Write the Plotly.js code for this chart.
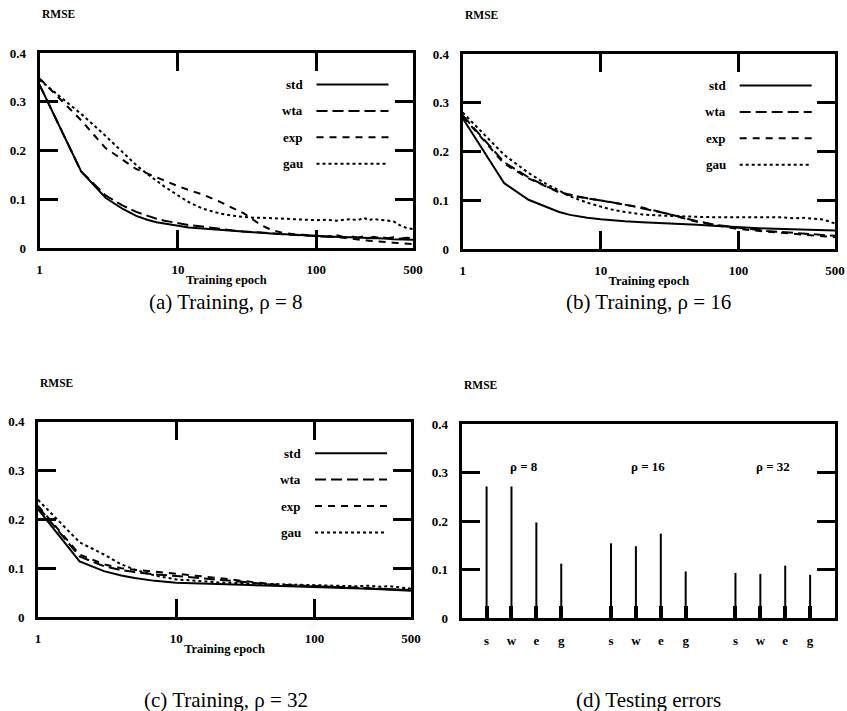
<!DOCTYPE html>
<html>
<head>
<meta charset="utf-8">
<script src="https://cdn.plot.ly/plotly-3.0.1.min.js"></script>
<style>html,body{margin:0;padding:0;background:#fff;}#chart{width:847px;height:711px;}</style>
</head>
<body>
<div id="chart"></div>
<script>
// ---------- data ----------
const methods = ['std', 'wta', 'exp', 'gau'];

const epochsA = [1,2,3,4,5,6,7,8,10,12,15,20,25,30,35,40,45,50,60,70,80,100,120,140,160,180,200,220,240,260,280,300,330,360,400,450,500];
const stdA = [.335,.157,.103,.080,.066,.058,.053,.050,.045,.042,.040,.037,.035,.033,.032,.031,.030,.029,.028,.027,.026,.024,.023,.023,.022,.022,.021,.021,.020,.020,.020,.019,.019,.018,.018,.017,.017];
const wtaA = [.335,.157,.108,.087,.074,.066,.060,.056,.051,.047,.044,.039,.036,.034,.033,.032,.031,.030,.028,.027,.026,.025,.023,.026,.022,.024,.021,.024,.020,.023,.021,.022,.020,.022,.019,.021,.020];
const expA = [.348,.262,.205,.180,.162,.153,.145,.139,.127,.119,.110,.095,.082,.071,.058,.047,.040,.035,.030,.028,.027,.025,.024,.023,.021,.019,.017,.016,.015,.014,.013,.012,.011,.011,.010,.009,.008];
const gauA = [.345,.275,.230,.195,.170,.152,.138,.126,.108,.094,.081,.071,.066,.063,.062,.062,.061,.061,.060,.059,.058,.057,.058,.056,.058,.059,.057,.062,.057,.060,.058,.057,.056,.055,.047,.041,.039];

const epochsB = [1,2,3,4,5,6,7,8,10,12,15,20,25,30,40,50,70,100,130,160,200,250,300,350,400,450,500];
const stdB = [.268,.135,.101,.086,.076,.070,.066,.064,.061,.059,.057,.055,.054,.053,.051,.050,.047,.044,.043,.042,.041,.040,.040,.039,.039,.038,.038];
const wtaB = [.274,.178,.147,.129,.117,.111,.107,.104,.100,.096,.091,.084,.078,.073,.064,.057,.049,.043,.040,.037,.035,.033,.031,.030,.029,.028,.027];
const expB = [.272,.175,.145,.128,.116,.110,.107,.104,.100,.096,.091,.085,.079,.073,.063,.056,.048,.041,.038,.036,.033,.031,.029,.028,.026,.025,.024];
const gauB = [.280,.193,.156,.134,.120,.108,.101,.095,.087,.081,.076,.071,.069,.068,.067,.066,.065,.065,.065,.064,.065,.063,.064,.062,.061,.057,.052];

const epochsC = [1,2,3,4,5,7,10,15,20,30,50,70,100,150,200,250,300,350,400,450,500];
const stdC = [.221,.114,.094,.085,.080,.074,.070,.068,.067,.066,.064,.063,.062,.060,.059,.058,.057,.056,.056,.055,.054];
const wtaC = [.226,.124,.104,.096,.092,.087,.084,.080,.077,.072,.066,.064,.063,.061,.060,.059,.058,.057,.057,.056,.055];
const expC = [.228,.128,.108,.100,.097,.093,.089,.083,.080,.074,.067,.065,.063,.061,.060,.059,.058,.057,.057,.056,.055];
const gauC = [.240,.153,.128,.108,.097,.085,.077,.073,.071,.069,.067,.066,.065,.064,.063,.064,.062,.063,.061,.060,.058];

const testGroups = ['\u03c1 = 8', '\u03c1 = 16', '\u03c1 = 32'];
const testLabels = ['s', 'w', 'e', 'g'];
const testP8  = [.271, .271, .197, .112];
const testP16 = [.154, .148, .174, .096];
const testP32 = [.093, .091, .108, .089];

const yTicks = [0, 0.1, 0.2, 0.3, 0.4];
const yTickText = ['0', '0.1', '0.2', '0.3', '0.4'];
const xTicks = [1, 10, 100, 500];
const xTickText = ['1', '10', '100', '500'];

// ---------- styles ----------
const W = 847, H = 711;
const FONT = 'Liberation Serif, Times New Roman, serif';
const dashes = {std: 'solid', wta: '11px,5px', exp: '7px,6px', gau: '3px,3px'};
const px = v => v / W;
const py = v => 1 - v / H;

// panel boxes in pixels: [left, top, right, bottom]
const boxes = [
  [39.5, 53, 413, 248],
  [462.7, 54, 835, 249],
  [38, 421.7, 411, 617],
  [461.7, 424, 835, 618]
];

const traces = [];
const lineSets = [
  [epochsA, [stdA, wtaA, expA, gauA]],
  [epochsB, [stdB, wtaB, expB, gauB]],
  [epochsC, [stdC, wtaC, expC, gauC]]
];
lineSets.forEach((set, p) => {
  const sfx = p === 0 ? '' : String(p + 1);
  set[1].forEach((vals, i) => {
    traces.push({
      type: 'scatter', mode: 'lines', x: set[0], y: vals,
      name: methods[i], xaxis: 'x' + sfx, yaxis: 'y' + sfx,
      line: {color: 'black', width: 2, dash: dashes[methods[i]]},
      showlegend: false, hoverinfo: 'x+y+name'
    });
  });
});

// testing bars
const testSets = [testP8, testP16, testP32];
const barX = [], barY = [], barText = [], tickV = [], tickT = [];
testSets.forEach((vals, g) => {
  vals.forEach((v, m) => {
    const pos = g * 5 + m + 1;
    barX.push(pos); barY.push(v);
    barText.push(testGroups[g] + ' ' + testLabels[m]);
    tickV.push(pos); tickT.push(testLabels[m]);
  });
});
traces.push({
  type: 'bar', x: barX, y: barY, width: 0.08, xaxis: 'x4', yaxis: 'y4',
  marker: {color: 'black', line: {width: 0}}, showlegend: false,
  hovertext: barText, hoverinfo: 'text+y'
});

const tickFont = {family: FONT, size: 13, color: 'black', weight: 700};

function yAxis(b, xa) {
  return {
    domain: [py(b[3]), py(b[1])], anchor: xa, range: [0, 0.4],
    tickvals: yTicks, ticktext: yTickText, ticks: 'inside', ticklen: 18, tickwidth: 3,
    tickcolor: 'black', showline: true, linewidth: 3, linecolor: 'black', mirror: 'ticks',
    showgrid: false, zeroline: false, tickfont: tickFont, ticklabelstandoff: 8, fixedrange: true
  };
}
function xAxisLog(b, ya) {
  return {
    domain: [px(b[0]), px(b[2])], anchor: ya, type: 'log', range: [0, Math.log10(500)],
    tickvals: xTicks, ticktext: xTickText, ticks: 'inside', ticklen: 18, tickwidth: 3,
    tickcolor: 'black', showline: true, linewidth: 3, linecolor: 'black', mirror: 'ticks',
    showgrid: false, zeroline: false, tickfont: tickFont, ticklabelstandoff: 7,
    title: {text: 'Training epoch', font: {family: FONT, size: 12.5, color: 'black', weight: 700}, standoff: 0},
    fixedrange: true
  };
}

const layout = {
  width: W, height: H, margin: {l: 0, r: 0, t: 0, b: 0},
  paper_bgcolor: 'white', plot_bgcolor: 'white', showlegend: false,
  font: {family: FONT, color: 'black'},
  xaxis: xAxisLog(boxes[0], 'y'), yaxis: yAxis(boxes[0], 'x'),
  xaxis2: xAxisLog(boxes[1], 'y2'), yaxis2: yAxis(boxes[1], 'x2'),
  xaxis3: xAxisLog(boxes[2], 'y3'), yaxis3: yAxis(boxes[2], 'x3'),
  xaxis4: {
    domain: [px(boxes[3][0]), px(boxes[3][2])], anchor: 'y4', range: [0, 15],
    tickvals: tickV, ticktext: tickT, ticks: 'inside', ticklen: 12, tickwidth: 4,
    tickcolor: 'black', showline: true, linewidth: 3, linecolor: 'black', mirror: true,
    showgrid: false, zeroline: false, tickfont: tickFont, ticklabelstandoff: 8, fixedrange: true
  },
  yaxis4: yAxis(boxes[3], 'x4'),
  annotations: [], shapes: []
};

// RMSE labels
boxes.forEach(b => {
  layout.annotations.push({
    xref: 'paper', yref: 'paper', x: px(b[0]), y: py(b[1] - 39), xanchor: 'left', yanchor: 'middle',
    text: 'RMSE', showarrow: false, font: {family: FONT, size: 11.5, color: 'black', weight: 700}
  });
});

// legends for training panels
[0, 1, 2].forEach(p => {
  const b = boxes[p];
  methods.forEach((m, i) => {
    const yy = b[1] + 31.5 + i * 26.4;
    layout.annotations.push({
      xref: 'paper', yref: 'paper', x: px(b[0] + 265), y: py(yy), xanchor: 'right', yanchor: 'middle',
      text: m, showarrow: false, font: {family: FONT, size: 13, color: 'black', weight: 700}
    });
    layout.shapes.push({
      type: 'line', xref: 'paper', yref: 'paper',
      x0: px(b[0] + 277), x1: px(b[0] + 349), y0: py(yy), y1: py(yy),
      line: {color: 'black', width: 2, dash: dashes[m]}
    });
  });
});

// group labels in testing panel
testGroups.forEach((g, i) => {
  layout.annotations.push({
    xref: 'x4', yref: 'y4', x: i * 5 + 2.5, y: 0.312, xanchor: 'center', yanchor: 'middle',
    text: g, showarrow: false, font: {family: FONT, size: 13, color: 'black', weight: 700}
  });
});

// captions
const captions = [
  ['(a) Training, \u03c1 = 8', 226, 302],
  ['(b) Training, \u03c1 = 16', 648, 302],
  ['(c) Training, \u03c1 = 32', 226, 700],
  ['(d) Testing errors', 648, 700]
];
captions.forEach(c => {
  layout.annotations.push({
    xref: 'paper', yref: 'paper', x: px(c[1]), y: py(c[2]), xanchor: 'center', yanchor: 'middle',
    text: c[0], showarrow: false, font: {family: FONT, size: 21, color: 'black'}
  });
});

Plotly.newPlot('chart', traces, layout, {staticPlot: true, displayModeBar: false});
</script>
</body>
</html>
